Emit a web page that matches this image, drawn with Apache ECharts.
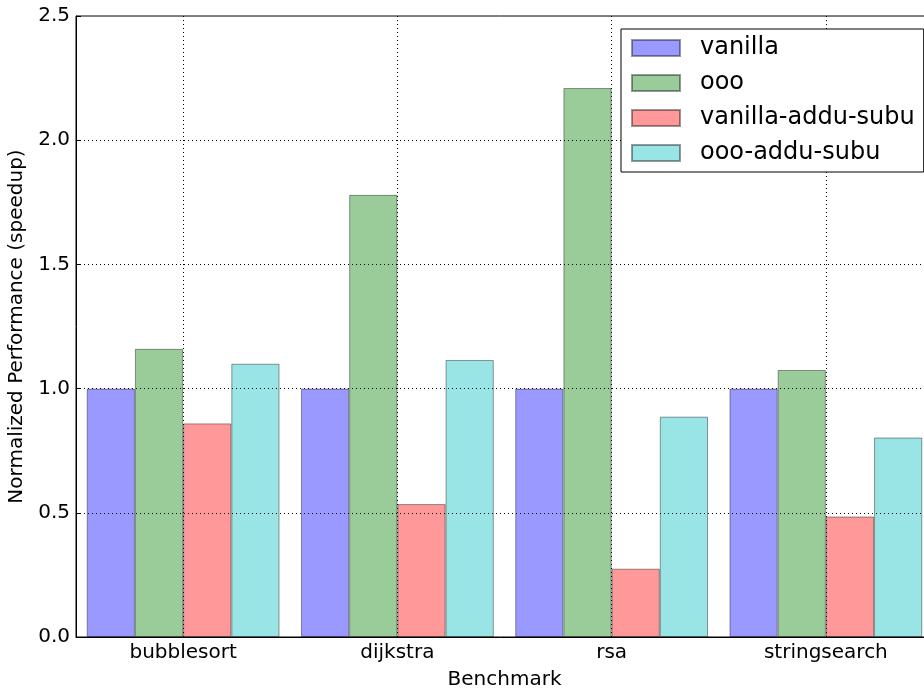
<!DOCTYPE html>
<html>
<head>
<meta charset="utf-8">
<script src="https://cdn.jsdelivr.net/npm/echarts@6/dist/echarts.min.js"></script>
<style>
  html, body { margin: 0; padding: 0; background: #fff; }
  #chart { width: 924px; height: 692px; }
</style>
</head>
<body>
<div id="chart"></div>
<script>
var benchmarks = ['bubblesort', 'dijkstra', 'rsa', 'stringsearch']
var vanilla = [1.0, 1.0, 1.0, 1.0]
var ooo = [1.16, 1.78, 2.21, 1.075]
var vanillaAdduSubu = [0.86, 0.535, 0.275, 0.485]
var oooAdduSubu = [1.10, 1.115, 0.887, 0.803]
var yGridValues = [0.5, 1.0, 1.5, 2.0]

var font = 'DejaVu Sans'
var dotted = { color: '#000', width: 1, type: [1, 3] }

function barSeries (name, data, color) {
	return {
		name: name,
		type: 'bar',
		data: data,
		barWidth: 48.2,
		barGap: '0%',
		itemStyle: { color: color, borderColor: 'rgba(0,0,0,0.4)', borderWidth: 1 },
		animation: false
	}
}

var series = [
	barSeries('vanilla', vanilla, 'rgba(0,0,255,0.4)'),
	barSeries('ooo', ooo, 'rgba(0,128,0,0.4)'),
	barSeries('vanilla-addu-subu', vanillaAdduSubu, 'rgba(255,0,0,0.4)'),
	barSeries('ooo-addu-subu', oooAdduSubu, 'rgba(0,191,191,0.4)')
]

// grid lines sit on top of the bars, like the original
var gridLines = []
yGridValues.forEach(function (v) { gridLines.push({ yAxis: v }) })
benchmarks.forEach(function (b) { gridLines.push({ xAxis: b }) })
series.push({
	name: 'grid',
	type: 'line',
	data: [],
	z: 5,
	markLine: {
		silent: true,
		symbol: 'none',
		label: { show: false },
		lineStyle: dotted,
		animation: false,
		data: gridLines
	}
})

var myCharts = echarts.init(document.getElementById('chart'))
myCharts.setOption({
	animation: false,
	textStyle: { fontFamily: font },
	grid: {
		left: 76, top: 16, width: 857, bottom: 55,
		outerBoundsMode: 'none',
		containLabel: false,
		show: true, borderColor: '#000', borderWidth: 1, backgroundColor: 'transparent'
	},
	legend: {
		orient: 'vertical',
		left: 621, top: 29,
		padding: [7, 9, 7, 10],
		itemWidth: 48, itemHeight: 16, itemGap: 11,
		backgroundColor: '#fff',
		borderColor: '#000', borderWidth: 1,
		borderRadius: 0,
		icon: 'rect',
		z: 10,
		textStyle: { fontFamily: font, fontSize: 24, lineHeight: 24, color: '#000', padding: [0, 0, 0, 15] },
		data: ['vanilla', 'ooo', 'vanilla-addu-subu', 'ooo-addu-subu']
	},
	xAxis: {
		type: 'category',
		data: benchmarks,
		name: 'Benchmark',
		nameLocation: 'middle',
		nameGap: 33,
		nameTextStyle: { fontFamily: font, fontSize: 20, color: '#000' },
		axisLine: { lineStyle: { color: '#000', width: 1 } },
		axisTick: { alignWithLabel: true, inside: true, length: 5, lineStyle: { color: '#000' } },
		axisLabel: { fontFamily: font, fontSize: 20, color: '#000', margin: 6 },
		splitLine: { show: false }
	},
	yAxis: {
		type: 'value',
		min: 0, max: 2.5, interval: 0.5,
		name: 'Normalized Performance (speedup)',
		nameLocation: 'middle',
		nameGap: 46,
		nameTextStyle: { fontFamily: font, fontSize: 20, color: '#000' },
		axisLine: { show: true, lineStyle: { color: '#000', width: 1 } },
		axisTick: { show: true, inside: true, length: 5, lineStyle: { color: '#000' } },
		axisLabel: { fontFamily: font, fontSize: 20, color: '#000', margin: 6,
			formatter: function (v) { return v.toFixed(1) } },
		splitLine: { show: false }
	},
	series: series
})
</script>
</body>
</html>
